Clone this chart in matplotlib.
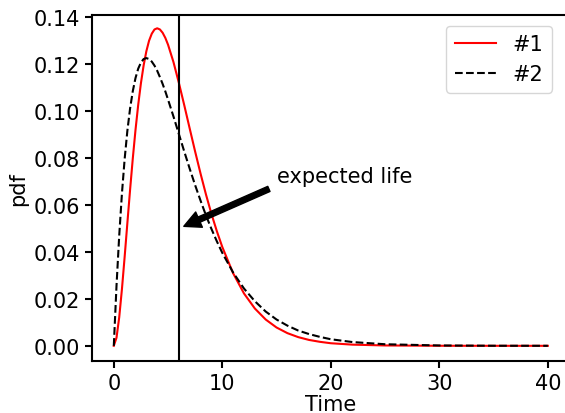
import matplotlib
matplotlib.use("Agg")
import matplotlib.pyplot as plt

# time grid and the two pdf curves
time = [0, 0.25, 0.5, 0.75, 1, 1.25, 1.5, 1.75, 2, 2.25, 2.5, 2.75, 3, 3.25,
        3.5, 3.75, 4, 4.25, 4.5, 4.75, 5,
        5.5, 6, 6.5, 7, 7.5, 8, 8.5, 9, 9.5, 10,
        11, 12, 13, 14, 15, 16, 17, 18, 19, 20,
        22, 25, 30, 35, 40]
pdf_1 = [0.0, 0.00345, 0.01217, 0.02416, 0.03791, 0.05228, 0.06643, 0.0798,
         0.09197, 0.1027, 0.1119, 0.1195, 0.1255, 0.1300, 0.1330, 0.1348,
         0.1353, 0.1348, 0.1334, 0.1312, 0.1283,
         0.1209, 0.1120, 0.1024, 0.0925, 0.0827, 0.0733, 0.0644, 0.0562,
         0.0488, 0.0421,
         0.0309, 0.0223, 0.0159, 0.0112, 0.0078, 0.0054, 0.0037, 0.0025,
         0.0017, 0.0011,
         0.0005, 0.00015, 0.00002, 0.0, 0.0]
pdf_2 = [0.0, 0.0256, 0.0470, 0.0649, 0.0796, 0.0916, 0.1011, 0.1085,
         0.1141, 0.1181, 0.1207, 0.1222, 0.1226, 0.1222, 0.1211, 0.1194,
         0.1172, 0.1145, 0.1116, 0.1084, 0.1049,
         0.0977, 0.0902, 0.0827, 0.0754, 0.0684, 0.0618, 0.0555, 0.0498,
         0.0445, 0.0396,
         0.0312, 0.0244, 0.0190, 0.0146, 0.0112, 0.0086, 0.0065, 0.0050,
         0.0038, 0.0028,
         0.0016, 0.00067, 0.00015, 0.00003, 0.00001]
labels = ["#1", "#2"]
expected_life = 6

plt.rcParams["font.size"] = 15

fig = plt.figure(figsize=(5.65, 4.14), dpi=100)
ax = fig.add_axes([0.163, 0.126, 0.845, 0.835])

ax.plot(time, pdf_1, color="red", linestyle="-", label=labels[0])
ax.plot(time, pdf_2, color="black", linestyle="--", label=labels[1])
ax.axvline(expected_life, color="black")

ax.annotate("expected life", xy=(expected_life, 0.05), xytext=(15, 0.07),
            arrowprops=dict(facecolor="black", shrink=0.05))

ax.set_xlabel("Time", labelpad=1)
ax.set_ylabel("pdf")
ax.set_xlim(-2, 42)
ax.set_ylim(-0.0064, 0.1409)
ax.set_xticks([0, 10, 20, 30, 40])
ax.legend(loc="upper right", bbox_to_anchor=(0.985, 1.0))

for s in ax.spines.values():
    s.set_linewidth(1.5)
ax.tick_params(width=1.5, length=5)

fig.savefig("out.png", dpi=100)
